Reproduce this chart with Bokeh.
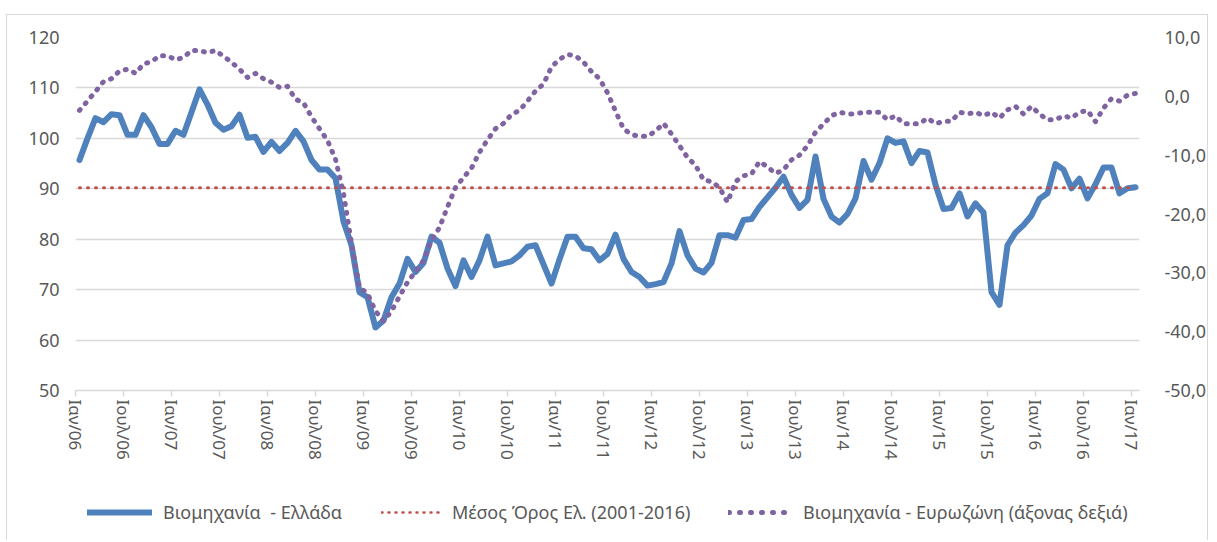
import numpy as np
from bokeh.plotting import figure
from bokeh.layouts import column
from bokeh.models import Range1d, LinearAxis, FixedTicker, Legend, LegendItem, ColumnDataSource
from bokeh.embed import file_html
from bokeh.resources import INLINE

# Monthly values, Jan 2006 .. Jan 2017
greece = [
    95.7, 100.0, 104.0, 103.2, 104.8, 104.6, 100.7, 100.7, 104.6, 102.2, 98.9, 98.9,
    101.5, 100.7, 105.2, 109.7, 106.7, 103.1, 101.7, 102.4, 104.7, 100.1, 100.3, 97.3,
    99.3, 97.5, 99.1, 101.5, 99.4, 95.7, 93.8, 93.8, 92.1, 83.5, 78.8, 69.5,
    68.5, 62.5, 63.9, 68.5, 71.2, 76.1, 73.5, 75.3, 80.5, 79.3, 74.2, 70.7,
    75.8, 72.5, 75.8, 80.5, 74.8, 75.2, 75.6, 76.8, 78.5, 78.8, 75.0, 71.2,
    76.0, 80.5, 80.5, 78.2, 78.0, 75.8, 77.1, 80.9, 76.1, 73.5, 72.5, 70.8,
    71.1, 71.5, 75.2, 81.6, 76.8, 74.2, 73.4, 75.3, 80.8, 80.8, 80.3, 83.8,
    84.0, 86.4, 88.3, 90.2, 92.4, 88.8, 86.2, 87.8, 96.4, 88.0, 84.5, 83.3,
    85.0, 88.1, 95.5, 91.8, 95.1, 100.0, 99.1, 99.4, 95.1, 97.5, 97.2, 90.8,
    86.0, 86.2, 89.1, 84.5, 87.1, 85.3, 69.5, 67.0, 78.8, 81.3, 82.8, 84.7,
    88.0, 89.1, 94.9, 93.8, 90.1, 92.0, 88.1, 90.9, 94.2, 94.2, 89.1, 90.1,
    90.3,
]

eurozone = [
    -2.4, -0.8, 0.8, 2.5, 3.0, 4.3, 4.6, 3.9, 5.5, 5.9, 6.9, 6.9,
    6.2, 6.6, 7.8, 7.8, 7.4, 7.8, 6.8, 5.8, 4.6, 3.2, 3.9, 3.0,
    2.4, 1.5, 1.7, -0.5, -1.1, -3.5, -5.5, -7.5, -10.7, -16.5, -25.0, -32.5,
    -33.5, -36.5, -38.2, -36.5, -34.0, -31.6, -29.8, -27.9, -24.5, -22.3, -18.8, -15.5,
    -13.8, -12.2, -9.5, -7.4, -5.5, -4.6, -3.1, -2.4, -0.8, 0.9, 2.1, 5.0,
    6.3, 7.1, 6.9, 5.8, 4.2, 3.0, 0.6, -2.5, -5.5, -6.5, -6.8, -6.8,
    -5.9, -4.6, -6.4, -8.4, -10.4, -11.7, -14.2, -14.5, -15.5, -18.0, -14.5, -13.5,
    -13.2, -11.1, -12.0, -13.1, -12.5, -10.8, -10.0, -8.4, -6.1, -4.7, -3.3, -2.7,
    -3.0, -3.0, -2.7, -2.7, -2.7, -4.0, -3.3, -4.65, -4.65, -4.65, -3.7, -4.65,
    -4.25, -4.25, -2.7, -3.0, -2.7, -3.3, -2.7, -3.7, -2.3, -1.7, -3.0, -1.7,
    -3.0, -4.0, -4.0, -3.3, -3.7, -2.7, -2.4, -4.3, -2.0, -0.4, -0.8, 0.2,
    0.5,
]

greece_mean = 90.2  # Μέσος Όρος Ελ. (2001-2016)

tick_labels = [
    "Ιαν/06", "Ιουλ/06", "Ιαν/07", "Ιουλ/07", "Ιαν/08", "Ιουλ/08",
    "Ιαν/09", "Ιουλ/09", "Ιαν/10", "Ιουλ/10", "Ιαν/11", "Ιουλ/11",
    "Ιαν/12", "Ιουλ/12", "Ιαν/13", "Ιουλ/13", "Ιαν/14", "Ιουλ/14",
    "Ιαν/15", "Ιουλ/15", "Ιαν/16", "Ιουλ/16", "Ιαν/17",
]

left_ticks = [50, 60, 70, 80, 90, 100, 110, 120]
right_ticks = [-50, -40, -30, -20, -10, 0, 10]
right_labels = ["-50,0", "-40,0", "-30,0", "-20,0", "-10,0", "0,0", "10,0"]

legend_labels = [
    "Βιομηχανία  - Ελλάδα",
    "Μέσος Όρος Ελ. (2001-2016)",
    "Βιομηχανία - Ευρωζώνη (άξονας δεξιά)",
]

FONT = "Noto Sans"
TXT = "#595959"
GRID = "#d9d9d9"
BLUE, RED, PURPLE = "#4F81BD", "#C0504D", "#8064A2"

n = len(greece)
x = np.arange(n) + 0.5
src = ColumnDataSource(dict(x=x, gr=greece, ez=eurozone, avg=[greece_mean] * n))

p = figure(
    width=1202, height=460, output_backend="svg", toolbar_location=None,
    x_range=Range1d(0, 133), y_range=Range1d(50, 120),
    min_border_left=68, min_border_right=64, min_border_top=22, min_border_bottom=85,
)
p.styles = {"border-top": "1px solid #d9d9d9", "border-left": "1px solid #d9d9d9",
            "border-right": "1px solid #d9d9d9"}
p.outline_line_color = None
p.extra_y_ranges = {"ez": Range1d(-50, 10)}

# grid
p.xgrid.visible = False
p.ygrid.ticker = FixedTicker(ticks=left_ticks)
p.ygrid.grid_line_color = GRID
p.ygrid.grid_line_width = 1.5

# left axis
la = p.yaxis[0]
la.ticker = FixedTicker(ticks=left_ticks)
la.axis_line_color = None
la.major_tick_line_color = None
la.major_tick_out = 0
la.minor_tick_line_color = None
la.minor_tick_out = 0
la.major_label_text_font = FONT
la.major_label_text_font_size = "18px"
la.major_label_text_color = TXT
la.major_label_standoff = 16

# right axis
ra = LinearAxis(y_range_name="ez", ticker=FixedTicker(ticks=right_ticks))
ra.major_label_overrides = {t: l for t, l in zip(right_ticks, right_labels)}
ra.axis_line_color = None
ra.major_tick_line_color = None
ra.major_tick_out = 0
ra.minor_tick_line_color = None
ra.minor_tick_out = 0
ra.major_label_text_font = FONT
ra.major_label_text_font_size = "18px"
ra.major_label_text_color = TXT
ra.major_label_standoff = 25
p.add_layout(ra, "right")

# bottom axis
xa = p.xaxis[0]
xticks = [6 * k for k in range(len(tick_labels))]
xa.ticker = FixedTicker(ticks=xticks)
xa.major_label_overrides = {t: l for t, l in zip(xticks, tick_labels)}
xa.major_label_orientation = "vertical"
xa.axis_line_color = GRID
xa.axis_line_width = 1.5
xa.major_tick_line_color = GRID
xa.major_tick_line_width = 1.5
xa.major_tick_in = 0
xa.major_tick_out = 6
xa.minor_tick_line_color = None
xa.major_label_text_font = FONT
xa.major_label_text_font_size = "17px"
xa.major_label_text_color = TXT
xa.major_label_standoff = 3

# series
p.line("x", "gr", source=src, line_color=BLUE, line_width=6,
       line_join="round", line_cap="round")
p.line("x", "avg", source=src, line_color=RED, line_width=3,
       line_dash="1 7", line_cap="round")
p.line("x", "ez", source=src, y_range_name="ez", line_color=PURPLE,
       line_width=5, line_dash="1 8", line_cap="round", line_join="round")

# legend strip underneath (same styles; its single point lies outside the view)
q = figure(
    width=1202, height=66, output_backend="svg", toolbar_location=None,
    x_range=Range1d(0, 1), y_range=Range1d(0, 1),
    x_axis_type=None, y_axis_type=None, min_border=0,
)
q.styles = {"border-left": "1px solid #d9d9d9", "border-right": "1px solid #d9d9d9"}
q.grid.visible = False
q.outline_line_color = None
off = dict(x=[-5.0], y=[-5.0])
lg_gr = q.line(x=off["x"], y=off["y"], line_color=BLUE, line_width=6, line_cap="round")
lg_avg = q.line(x=off["x"], y=off["y"], line_color=RED, line_width=2.5,
                line_dash="1 6", line_cap="round")
lg_ez = q.line(x=off["x"], y=off["y"], line_color=PURPLE, line_width=5,
               line_dash="1 10", line_cap="round")

for lab, rend, xloc, gw in zip(legend_labels, [lg_gr, lg_avg, lg_ez],
                               [12, 306, 653], [65, 60, 64]):
    lg = Legend(
        items=[LegendItem(label=lab, renderers=[rend])],
        location=(xloc, 16), orientation="horizontal",
        padding=0, margin=0, border_line_color=None, background_fill_alpha=0,
        glyph_width=gw, glyph_height=20, label_standoff=11,
        label_text_font=FONT, label_text_font_size="18px", label_text_color=TXT,
    )
    q.add_layout(lg)

layout = column(p, q, spacing=0)
layout.margin = (14, 0, 0, 6)
open("out.html", "w").write(file_html(layout, INLINE))
